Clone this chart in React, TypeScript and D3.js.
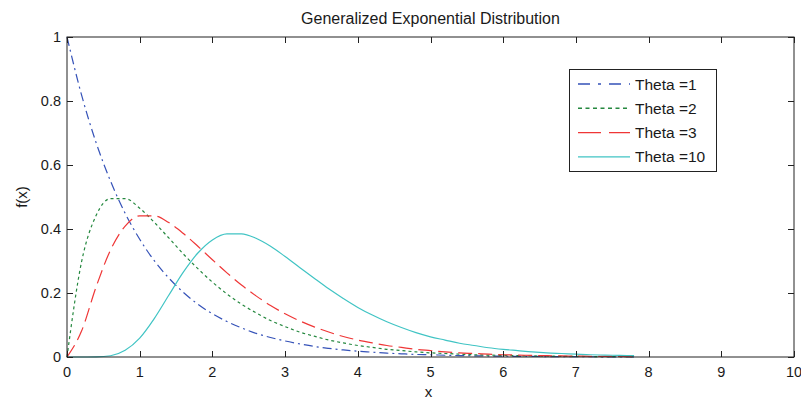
import React, { useEffect, useRef } from "react";
import * as d3 from "d3";

// x grid used for all curves (0 to 7.8, step 0.2)
const xs = [
  0, 0.2, 0.4, 0.6, 0.8, 1.0, 1.2, 1.4, 1.6, 1.8, 2.0, 2.2, 2.4, 2.6, 2.8, 3.0,
  3.2, 3.4, 3.6, 3.8, 4.0, 4.2, 4.4, 4.6, 4.8, 5.0, 5.2, 5.4, 5.6, 5.8, 6.0,
  6.2, 6.4, 6.6, 6.8, 7.0, 7.2, 7.4, 7.6, 7.8,
];

const theta1 = [
  1.0, 0.819, 0.67, 0.549, 0.449, 0.368, 0.301, 0.247, 0.202, 0.165, 0.135,
  0.111, 0.091, 0.074, 0.061, 0.05, 0.041, 0.033, 0.027, 0.022, 0.018, 0.015,
  0.012, 0.01, 0.008, 0.007, 0.0055, 0.0045, 0.0037, 0.003, 0.0025, 0.002,
  0.0017, 0.0014, 0.0011, 0.0009, 0.0008, 0.0006, 0.0005, 0.0004,
];

const theta2 = [
  0, 0.297, 0.442, 0.495, 0.495, 0.465, 0.421, 0.372, 0.322, 0.276, 0.234,
  0.197, 0.165, 0.138, 0.114, 0.095, 0.078, 0.065, 0.053, 0.044, 0.036, 0.03,
  0.024, 0.02, 0.016, 0.013, 0.011, 0.009, 0.007, 0.006, 0.005, 0.004, 0.0033,
  0.0027, 0.0022, 0.0018, 0.0015, 0.0012, 0.001, 0.0008,
];

const theta3 = [
  0, 0.081, 0.219, 0.335, 0.409, 0.441, 0.441, 0.42, 0.386, 0.346, 0.304,
  0.263, 0.225, 0.191, 0.161, 0.135, 0.113, 0.094, 0.078, 0.064, 0.053, 0.044,
  0.036, 0.03, 0.024, 0.02, 0.016, 0.013, 0.011, 0.009, 0.007, 0.006, 0.005,
  0.004, 0.0033, 0.0027, 0.0022, 0.0018, 0.0015, 0.0012,
];

const theta10 = [
  0, 0, 0.0003, 0.004, 0.021, 0.059, 0.12, 0.193, 0.265, 0.325, 0.366, 0.385,
  0.385, 0.371, 0.346, 0.314, 0.28, 0.246, 0.213, 0.183, 0.155, 0.131, 0.11,
  0.092, 0.076, 0.063, 0.053, 0.043, 0.036, 0.029, 0.024, 0.02, 0.016, 0.013,
  0.011, 0.009, 0.007, 0.006, 0.005, 0.004,
];

const seriesNames = ["Theta =1", "Theta =2", "Theta =3", "Theta =10"];
const seriesValues = [theta1, theta2, theta3, theta10];
const seriesColors = ["#3552b8", "#25883f", "#ef3636", "#40c4c4"];
const plotDash = ["9,4,2,4", "3,3", "14,6", null];
const legendDash = ["12,8,3,8", "4,3.5", "23,8", null];

const xTicks = [0, 1, 2, 3, 4, 5, 6, 7, 8, 9, 10];
const yTicks = [0, 0.2, 0.4, 0.6, 0.8, 1];

const W = 801;
const H = 401;
const margin = { top: 37, right: 7, bottom: 44, left: 67 };
const FONT = "'Liberation Sans', Arial, Helvetica, sans-serif";
const TEXT = "#1a1a1a";

export default function App() {
  const ref = useRef<SVGSVGElement | null>(null);

  useEffect(() => {
    const svg = d3.select(ref.current);
    svg.selectAll("*").remove();

    const x = d3.scaleLinear().domain([0, 10]).range([margin.left, W - margin.right]);
    const y = d3.scaleLinear().domain([0, 1]).range([H - margin.bottom, margin.top]);
    const x0 = margin.left;
    const x1 = W - margin.right;
    const y0 = H - margin.bottom;
    const y1 = margin.top;

    svg.append("rect").attr("width", W).attr("height", H).attr("fill", "#fff");

    // curves
    const line = d3
      .line<number>()
      .x((_, i) => x(xs[i]))
      .y((d) => y(d))
      .curve(d3.curveMonotoneX);

    seriesValues.forEach((vals, k) => {
      const p = svg
        .append("path")
        .attr("d", line(vals))
        .attr("fill", "none")
        .attr("stroke", seriesColors[k])
        .attr("stroke-width", 1.2);
      if (plotDash[k]) p.attr("stroke-dasharray", plotDash[k]);
    });

    // frame + ticks (inward, all four sides)
    const axisColor = "#222";
    svg
      .append("rect")
      .attr("x", x0)
      .attr("y", y1)
      .attr("width", x1 - x0)
      .attr("height", y0 - y1)
      .attr("fill", "none")
      .attr("stroke", axisColor)
      .attr("stroke-width", 1);

    const tickLen = 6;
    xTicks.forEach((t) => {
      const px = Math.round(x(t)) + 0.5;
      svg.append("line").attr("x1", px).attr("x2", px).attr("y1", y0).attr("y2", y0 - tickLen).attr("stroke", axisColor);
      svg.append("line").attr("x1", px).attr("x2", px).attr("y1", y1).attr("y2", y1 + tickLen).attr("stroke", axisColor);
      svg
        .append("text")
        .attr("x", x(t))
        .attr("y", y0 + 20)
        .attr("text-anchor", "middle")
        .attr("font-family", FONT)
        .attr("font-size", 14.5)
        .attr("fill", TEXT)
        .text(t);
    });

    yTicks.forEach((t) => {
      const py = Math.round(y(t)) + 0.5;
      svg.append("line").attr("x1", x0).attr("x2", x0 + tickLen).attr("y1", py).attr("y2", py).attr("stroke", axisColor);
      svg.append("line").attr("x1", x1).attr("x2", x1 - tickLen).attr("y1", py).attr("y2", py).attr("stroke", axisColor);
      svg
        .append("text")
        .attr("x", x0 - 6)
        .attr("y", y(t) + 5)
        .attr("text-anchor", "end")
        .attr("font-family", FONT)
        .attr("font-size", 14.5)
        .attr("fill", TEXT)
        .text(String(t));
    });

    // title + axis labels
    svg
      .append("text")
      .attr("x", (x0 + x1) / 2)
      .attr("y", 24)
      .attr("text-anchor", "middle")
      .attr("font-family", FONT)
      .attr("font-size", 16)
      .attr("fill", TEXT)
      .text("Generalized Exponential Distribution");

    svg
      .append("text")
      .attr("x", (x0 + x1) / 2 - 2)
      .attr("y", 397)
      .attr("text-anchor", "middle")
      .attr("font-family", FONT)
      .attr("font-size", 15)
      .attr("fill", TEXT)
      .text("x");

    svg
      .append("text")
      .attr("transform", `translate(27,${(y0 + y1) / 2}) rotate(-90)`)
      .attr("text-anchor", "middle")
      .attr("font-family", FONT)
      .attr("font-size", 15)
      .attr("fill", TEXT)
      .text("f(x)");

    // legend
    const lg = svg.append("g").attr("transform", "translate(569,69)");
    lg.append("rect")
      .attr("x", 0.5)
      .attr("y", 0.5)
      .attr("width", 147)
      .attr("height", 102)
      .attr("fill", "#fff")
      .attr("stroke", axisColor);

    seriesNames.forEach((name, k) => {
      const cy = 15 + k * 24.3;
      const l = lg
        .append("line")
        .attr("x1", 9)
        .attr("x2", 61)
        .attr("y1", cy)
        .attr("y2", cy)
        .attr("stroke", seriesColors[k])
        .attr("stroke-width", 1.4);
      if (legendDash[k]) l.attr("stroke-dasharray", legendDash[k]);
      lg.append("text")
        .attr("x", 66)
        .attr("y", cy + 5.5)
        .attr("font-family", FONT)
        .attr("font-size", 15.5)
        .attr("fill", TEXT)
        .text(name);
    });
  }, []);

  return (
    <div style={{ position: "absolute", left: 0, top: 0 }}>
      <svg ref={ref} width={W} height={H} style={{ display: "block" }} />
    </div>
  );
}
